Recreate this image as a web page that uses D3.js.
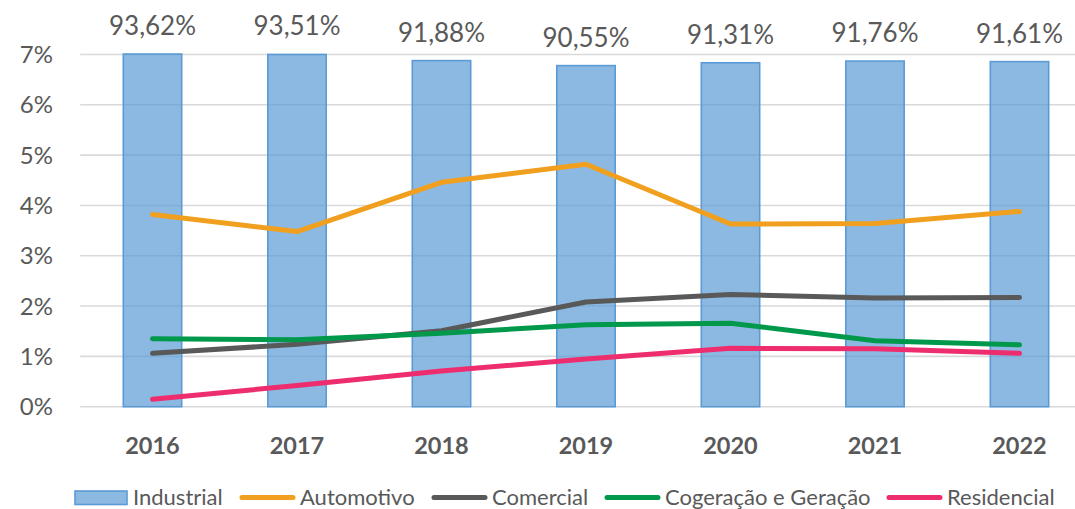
<!DOCTYPE html>
<html>
<head>
<meta charset="utf-8">
<script src="https://cdn.jsdelivr.net/npm/d3@7"></script>
<style>
  html, body { margin: 0; padding: 0; background: #fff; }
  svg { display: block; }
  text { font-family: Lato, "Open Sans", sans-serif; fill: #595959; }
</style>
</head>
<body>
<svg id="chart" width="1075" height="509"></svg>
<script>
// ---- Data ----
const years = ["2016", "2017", "2018", "2019", "2020", "2021", "2022"];
const industrial = [93.62, 93.51, 91.88, 90.55, 91.31, 91.76, 91.61];
const industrialLabels = ["93,62%", "93,51%", "91,88%", "90,55%", "91,31%", "91,76%", "91,61%"];
const automotivo = [3.82, 3.48, 4.46, 4.82, 3.63, 3.64, 3.88];
const comercial = [1.06, 1.24, 1.51, 2.08, 2.23, 2.16, 2.17];
const cogeracao = [1.35, 1.33, 1.46, 1.63, 1.66, 1.31, 1.23];
const residencial = [0.15, 0.42, 0.71, 0.95, 1.16, 1.15, 1.06];
const yTicks = [0, 1, 2, 3, 4, 5, 6, 7];
const yTickLabels = ["0%", "1%", "2%", "3%", "4%", "5%", "6%", "7%"];

const lineSeries = [
  { name: "Automotivo", values: automotivo, color: "#F0A01E" },
  { name: "Comercial", values: comercial, color: "#595959" },
  { name: "Cogeração e Geração", values: cogeracao, color: "#00994C" },
  { name: "Residencial", values: residencial, color: "#EE2D6E" }
];

// ---- Layout ----
const svg = d3.select("#chart");
const plotLeft = 80.25, plotRight = 1091.75;
const yBottom = 406.7, yTop = 54.5;

const x = d3.scaleBand().domain(years).range([plotLeft, plotRight]).padding(0);
const y = d3.scaleLinear().domain([0, 7]).range([yBottom, yTop]);
const y2 = d3.scaleLinear().domain([0, 93.5]).range([yBottom, yTop]);
const barW = x.step() * 0.404;
const cx = d => x(d) + x.bandwidth() / 2;

// gridlines
svg.append("g").selectAll("line").data(yTicks).join("line")
  .attr("x1", plotLeft).attr("x2", plotRight)
  .attr("y1", d => y(d)).attr("y2", d => y(d))
  .attr("stroke", "#D9D9D9").attr("stroke-width", 1.6);

// y tick labels
svg.append("g").selectAll("text").data(yTicks).join("text")
  .attr("x", 53).attr("y", d => y(d) + 8.6)
  .attr("text-anchor", "end")
  .style("font-size", "24px")
  .text((d, i) => yTickLabels[i]);

// bars
svg.append("g").selectAll("rect").data(years).join("rect")
  .attr("x", d => cx(d) - barW / 2)
  .attr("width", barW)
  .attr("y", (d, i) => y2(industrial[i]))
  .attr("height", (d, i) => yBottom - y2(industrial[i]))
  .attr("fill", "#5B9BD5").attr("fill-opacity", 0.7)
  .attr("stroke", "#5B9BD5").attr("stroke-width", 1.6);

// bar value labels
svg.append("g").selectAll("text").data(years).join("text")
  .attr("x", d => cx(d))
  .attr("y", (d, i) => y2(industrial[i]) - 19)
  .attr("text-anchor", "middle")
  .style("font-size", "26px")
  .text((d, i) => industrialLabels[i]);

// lines
const lineGen = d3.line().x((v, i) => cx(years[i])).y(v => y(v));
svg.append("g").selectAll("path").data(lineSeries).join("path")
  .attr("d", s => lineGen(s.values))
  .attr("fill", "none")
  .attr("stroke", s => s.color)
  .attr("stroke-width", 5)
  .attr("stroke-linecap", "round")
  .attr("stroke-linejoin", "round");

// x labels
svg.append("g").selectAll("text").data(years).join("text")
  .attr("x", d => cx(d)).attr("y", 453.5)
  .attr("text-anchor", "middle")
  .style("font-size", "23.5px").style("font-weight", "bold")
  .text(d => d);

// legend
const legend = svg.append("g");
const legY = 497.5;
const legTextY = 504.5;
const legendLineX = [240, 432, 605, 887];
legend.append("rect").attr("x", 75).attr("y", 491).attr("width", 52).attr("height", 13.5)
  .attr("fill", "#5B9BD5").attr("fill-opacity", 0.7)
  .attr("stroke", "#5B9BD5").attr("stroke-width", 1.6);
legend.append("text").attr("x", 133).attr("y", legTextY)
  .style("font-size", "22px").text("Industrial");
lineSeries.forEach((s, i) => {
  const lx = legendLineX[i];
  legend.append("line").attr("x1", lx + 2).attr("x2", lx + 53)
    .attr("y1", legY).attr("y2", legY)
    .attr("stroke", s.color).attr("stroke-width", 5).attr("stroke-linecap", "round");
  legend.append("text").attr("x", lx + 60).attr("y", legTextY)
    .style("font-size", "22px").text(s.name);
});
</script>
</body>
</html>
